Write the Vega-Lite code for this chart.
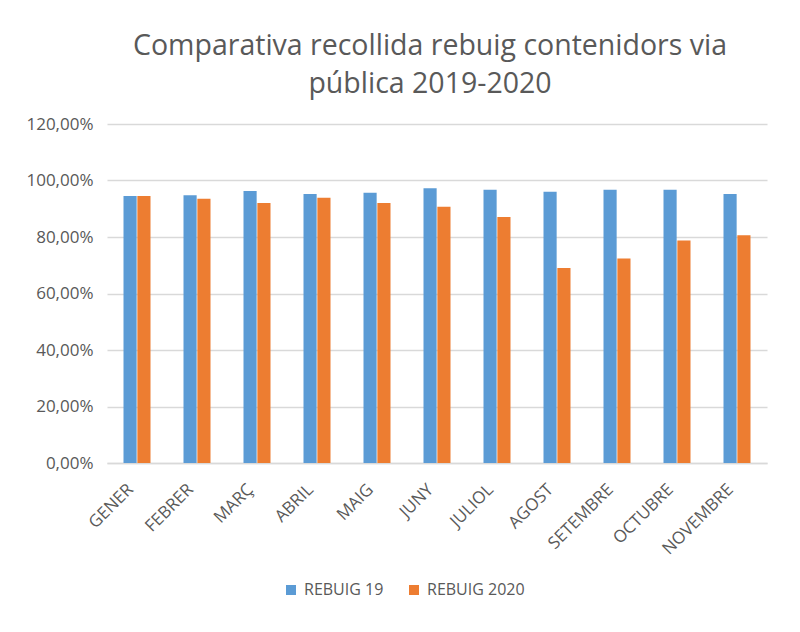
{
  "$schema": "https://vega.github.io/schema/vega-lite/v6.json",
  "width": 660,
  "height": 339,
  "autosize": {"type": "none"},
  "padding": {"left": 107, "top": 124, "right": 33, "bottom": 169},
  "background": "white",
  "title": {
    "text": ["Comparativa recollida rebuig contenidors via", "pública 2019-2020"],
    "font": "Open Sans",
    "fontSize": 28.5,
    "fontWeight": "normal",
    "color": "#595959",
    "lineHeight": 38,
    "anchor": "middle",
    "dx": -7,
    "offset": 17
  },
  "data": {
    "values": [
      {"mes": "GENER", "serie": "REBUIG 19", "valor": 94.5},
      {"mes": "GENER", "serie": "REBUIG 2020", "valor": 94.5},
      {"mes": "FEBRER", "serie": "REBUIG 19", "valor": 94.8},
      {"mes": "FEBRER", "serie": "REBUIG 2020", "valor": 93.5},
      {"mes": "MARÇ", "serie": "REBUIG 19", "valor": 96.3},
      {"mes": "MARÇ", "serie": "REBUIG 2020", "valor": 92.0},
      {"mes": "ABRIL", "serie": "REBUIG 19", "valor": 95.2},
      {"mes": "ABRIL", "serie": "REBUIG 2020", "valor": 93.9},
      {"mes": "MAIG", "serie": "REBUIG 19", "valor": 95.7},
      {"mes": "MAIG", "serie": "REBUIG 2020", "valor": 92.0},
      {"mes": "JUNY", "serie": "REBUIG 19", "valor": 97.3},
      {"mes": "JUNY", "serie": "REBUIG 2020", "valor": 90.7},
      {"mes": "JULIOL", "serie": "REBUIG 19", "valor": 96.7},
      {"mes": "JULIOL", "serie": "REBUIG 2020", "valor": 87.1},
      {"mes": "AGOST", "serie": "REBUIG 19", "valor": 96.0},
      {"mes": "AGOST", "serie": "REBUIG 2020", "valor": 69.0},
      {"mes": "SETEMBRE", "serie": "REBUIG 19", "valor": 96.7},
      {"mes": "SETEMBRE", "serie": "REBUIG 2020", "valor": 72.4},
      {"mes": "OCTUBRE", "serie": "REBUIG 19", "valor": 96.7},
      {"mes": "OCTUBRE", "serie": "REBUIG 2020", "valor": 78.8},
      {"mes": "NOVEMBRE", "serie": "REBUIG 19", "valor": 95.2},
      {"mes": "NOVEMBRE", "serie": "REBUIG 2020", "valor": 80.6}
    ]
  },
  "mark": {"type": "bar"},
  "encoding": {
    "x": {
      "field": "mes",
      "type": "nominal",
      "sort": null,
      "scale": {"paddingInner": 0.55, "paddingOuter": 0.275},
      "axis": {
        "title": null,
        "labelAngle": -45,
        "labelAlign": "right",
        "labelBaseline": "bottom",
        "labelFont": "Open Sans",
        "labelFontSize": 17,
        "labelColor": "#595959",
        "labelPadding": 30,
        "ticks": false,
        "domainColor": "#d9d9d9",
        "domainWidth": 1.5
      }
    },
    "xOffset": {"field": "serie", "type": "nominal", "scale": {"paddingInner": 0.05}},
    "y": {
      "field": "valor",
      "type": "quantitative",
      "scale": {"domain": [0, 120], "nice": false},
      "axis": {
        "title": null,
        "values": [0, 20, 40, 60, 80, 100, 120],
        "labelExpr": "replace(format(datum.value, '.2f'), '.', ',') + '%'",
        "labelFont": "Open Sans",
        "labelFontSize": 17,
        "labelColor": "#595959",
        "labelPadding": 14,
        "ticks": false,
        "domain": false,
        "gridColor": "#d9d9d9",
        "gridWidth": 1.5
      }
    },
    "color": {
      "field": "serie",
      "type": "nominal",
      "scale": {"domain": ["REBUIG 19", "REBUIG 2020"], "range": ["#5b9bd5", "#ed7d31"]},
      "legend": {
        "title": null,
        "orient": "none",
        "direction": "horizontal",
        "legendX": 176,
        "legendY": 458,
        "symbolType": "square",
        "symbolSize": 100,
        "symbolStrokeWidth": 0,
        "labelFont": "Open Sans",
        "labelFontSize": 16,
        "labelColor": "#595959",
        "columnPadding": 22,
        "labelOffset": 5
      }
    }
  },
  "config": {"view": {"stroke": null}}
}
